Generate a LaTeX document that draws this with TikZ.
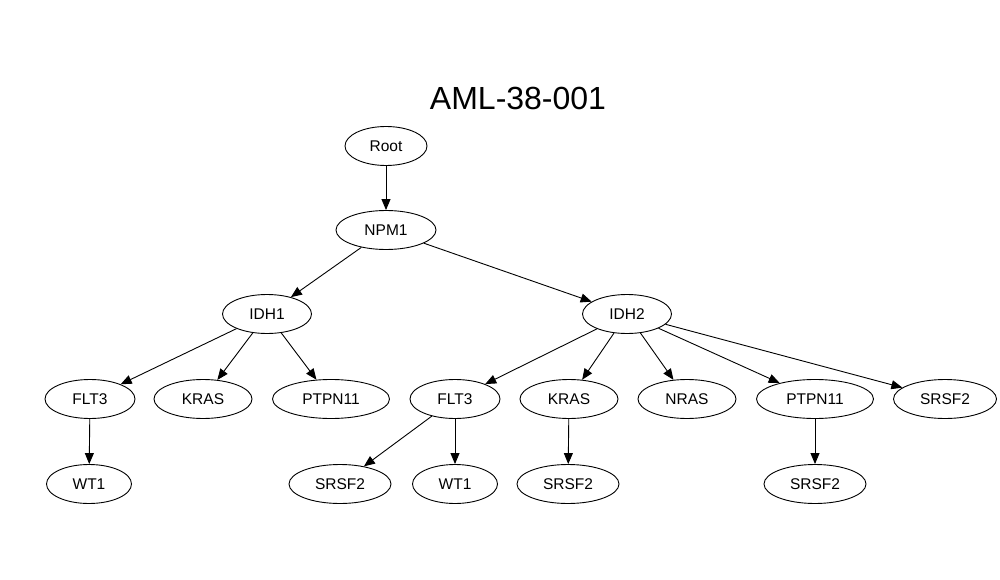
\documentclass[tikz,border=0pt]{standalone}
\usepackage{fontspec}
\setmainfont{Liberation Sans}
\usetikzlibrary{shapes.geometric,arrows.meta}
\begin{document}
\begin{tikzpicture}[x=1pt,y=-1pt,
  gnode/.style={draw,ellipse,line width=0.9pt,inner sep=0pt,minimum height=39pt,font=\fontsize{15.5}{18}\selectfont},
  edge/.style={line width=0.9pt,-{Triangle[length=11pt,width=9pt]}}]
\useasboundingbox (0,0) rectangle (1000,580);
\node[anchor=base,font=\fontsize{32}{36}\selectfont] (title) at (518,110) {AML-38-001};
\node[gnode,minimum width=82pt] (root) at (386,146) {Root};
\node[gnode,minimum width=100pt] (npm1) at (386,230) {NPM1};
\node[gnode,minimum width=89pt] (idh1) at (267,314) {IDH1};
\node[gnode,minimum width=89pt] (idh2) at (627,314) {IDH2};
\node[gnode,minimum width=90pt] (flt3a) at (90,399) {FLT3};
\node[gnode,minimum width=98pt] (krasa) at (203,399) {KRAS};
\node[gnode,minimum width=117pt] (ptpna) at (331,399) {PTPN11};
\node[gnode,minimum width=90pt] (flt3b) at (455,399) {FLT3};
\node[gnode,minimum width=98pt] (krasb) at (569,399) {KRAS};
\node[gnode,minimum width=98pt] (nras) at (687,399) {NRAS};
\node[gnode,minimum width=117pt] (ptpnb) at (815,399) {PTPN11};
\node[gnode,minimum width=103pt] (srsfr) at (945,399) {SRSF2};
\node[gnode,minimum width=85pt] (wt1a) at (89,484) {WT1};
\node[gnode,minimum width=102pt] (srsfa) at (340,484) {SRSF2};
\node[gnode,minimum width=85pt] (wt1b) at (455,484) {WT1};
\node[gnode,minimum width=102pt] (srsfb) at (568,484) {SRSF2};
\node[gnode,minimum width=102pt] (srsfc) at (815,484) {SRSF2};
\draw[edge] (root) -- (npm1);
\draw[edge] (npm1) -- (idh1);
\draw[edge] (npm1) -- (idh2);
\draw[edge] (idh1) -- (flt3a);
\draw[edge] (idh1) -- (krasa);
\draw[edge] (idh1) -- (ptpna);
\draw[edge] (flt3a) -- (wt1a);
\draw[edge] (idh2) -- (flt3b);
\draw[edge] (idh2) -- (krasb);
\draw[edge] (idh2) -- (nras);
\draw[edge] (idh2) -- (ptpnb);
\draw[edge] (idh2) -- (srsfr);
\draw[edge] (flt3b) -- (srsfa);
\draw[edge] (flt3b) -- (wt1b);
\draw[edge] (krasb) -- (srsfb);
\draw[edge] (ptpnb) -- (srsfc);
\end{tikzpicture}
\end{document}
